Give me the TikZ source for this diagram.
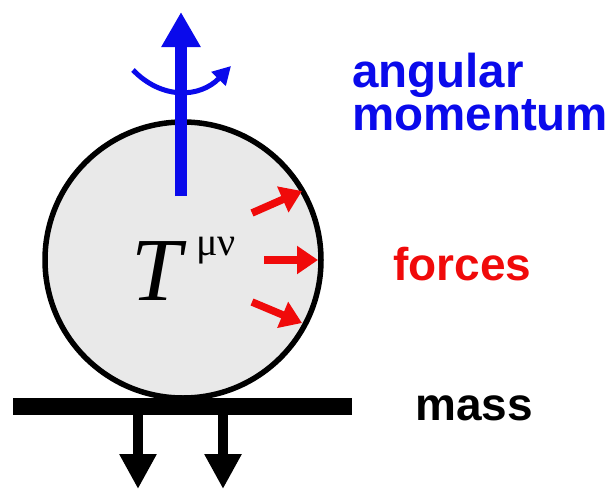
\documentclass[tikz,border=0pt]{standalone}
\usepackage{fontspec}
\setmainfont{Liberation Serif}
\newfontfamily\labelfont{Liberation Sans}
\usetikzlibrary{arrows.meta}
\definecolor{amblue}{RGB}{10,10,235}
\definecolor{fred}{RGB}{240,10,10}
\definecolor{ballgray}{RGB}{233,233,233}
\tikzset{
  lbl/.style={inner sep=0pt, anchor=base west, font=\labelfont\bfseries\fontsize{46}{30}\selectfont, align=left},
  forcearrow/.style={fred, line width=7.5pt, -{Triangle[length=21pt,width=27pt]}},
  weightarrow/.style={black, line width=10pt, -{Triangle[length=35pt,width=35pt]}},
}
\begin{document}
\begin{tikzpicture}[x=1pt,y=-1pt]
\useasboundingbox (0,0) rectangle (608,490);
% ball
\draw[line width=5.5pt, fill=ballgray] (183,260) circle[radius=138pt];
\node[inner sep=0pt, anchor=base west] (T) at (131,300)
  {\fontsize{90}{90}\selectfont\itshape T};
\node[inner sep=0pt, anchor=base west] (mn) at (196,255)
  {\fontsize{40}{40}\selectfont μν};
% ground bar
\fill[black] (13,398) rectangle (352,415);
\coordinate (w1s) at (138,414); \coordinate (w1e) at (138,489);
\coordinate (w2s) at (223,414); \coordinate (w2e) at (223,489);
\draw[weightarrow] (w1s) -- (w1e);
\draw[weightarrow] (w2s) -- (w2e);
% forces
\coordinate (f1s) at (252,213); \coordinate (f1e) at (302,191);
\coordinate (f2s) at (264,260); \coordinate (f2e) at (318,260);
\coordinate (f3s) at (252,302); \coordinate (f3e) at (302,323);
\draw[forcearrow] (f1s) -- (f1e);
\draw[forcearrow] (f2s) -- (f2e);
\draw[forcearrow] (f3s) -- (f3e);
% angular momentum
\coordinate (rs) at (133,70); \coordinate (re) at (231,66);
\draw[amblue, line width=5pt, -{Triangle[length=18pt,width=19pt]}] (rs) .. controls (162,100) and (200,98) .. (re);
\coordinate (as) at (181,196); \coordinate (ae) at (181,12);
\draw[amblue, line width=12pt, -{Triangle[length=35pt,width=37pt]}] (as) -- (ae);
% labels
\node[lbl, text=amblue, font=\labelfont\bfseries\fontsize{47.5}{36}\selectfont] (am) at (352,130) {angular\\momentum};
\node[lbl, text=fred] (fo) at (393,280) {forces};
\node[lbl, text=black] (ma) at (415,420) {mass};
\end{tikzpicture}
\end{document}
